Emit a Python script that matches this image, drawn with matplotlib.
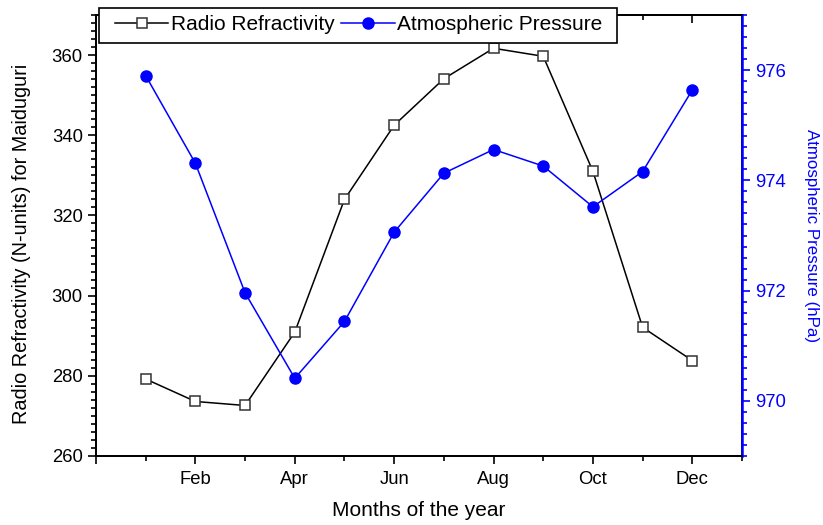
import matplotlib
matplotlib.use("Agg")
import matplotlib.pyplot as plt
from matplotlib.ticker import MultipleLocator, FixedLocator
from matplotlib.lines import Line2D
from matplotlib.patches import Rectangle

plt.rcParams['font.family'] = ['Liberation Sans', 'DejaVu Sans']

months = [1, 2, 3, 4, 5, 6, 7, 8, 9, 10, 11, 12]
refractivity = [279.2, 273.6, 272.6, 290.9, 324.0, 342.5, 354.1, 361.7, 359.7, 331.0, 292.1, 283.8]
pressure = [975.90, 974.31, 971.96, 970.41, 971.44, 973.06, 974.13, 974.56, 974.26, 973.52, 974.16, 975.64]
tick_months = [0, 2, 4, 6, 8, 10, 12]
tick_labels = ['', 'Feb', 'Apr', 'Jun', 'Aug', 'Oct', 'Dec']

W, H = 823, 525
fig = plt.figure(figsize=(W/100, H/100), dpi=100)
ax = fig.add_axes([96/W, 1-456/H, (742-96)/W, (456-15)/H])
ax2 = ax.twinx()

ax.plot(months, refractivity, color='black', lw=1.1, marker='s', ms=7.5,
        mfc='white', mec='#333333', mew=1.1, zorder=3)
ax2.plot(months, pressure, color='blue', lw=1.1, marker='o', ms=8,
         mfc='blue', mec='blue', zorder=3)

ax.set_xlim(0, 13)
ax.set_ylim(260, 370)
ax2.set_ylim(969, 977)

ax.xaxis.set_major_locator(FixedLocator(tick_months))
ax.set_xticklabels(tick_labels)
ax.xaxis.set_minor_locator(FixedLocator([1, 3, 5, 7, 9, 11, 13]))
ax.yaxis.set_major_locator(MultipleLocator(20))
ax.yaxis.set_minor_locator(MultipleLocator(2))
ax2.yaxis.set_major_locator(FixedLocator([970, 972, 974, 976]))
ax2.yaxis.set_minor_locator(MultipleLocator(0.2))

for a in (ax, ax2):
    for s in a.spines.values():
        s.set_linewidth(1.3)
ax2.spines['right'].set_color('blue')
ax2.spines['right'].set_linewidth(1.8)

ax.tick_params(axis='x', which='major', direction='out', length=6, width=1.2,
               labelsize=13.3, top=False, pad=5)
ax.tick_params(axis='x', which='minor', direction='out', length=3.5, width=1.2, top=False)
ax.tick_params(axis='y', which='major', direction='out', length=6, width=1.2,
               labelsize=13.3, right=False)
ax.tick_params(axis='y', which='minor', direction='out', length=3.5, width=1.2, right=False)
ax2.tick_params(axis='y', which='major', direction='out', length=6, width=1.2,
                colors='blue', labelsize=13.3)
ax2.tick_params(axis='y', which='minor', direction='out', length=3.5, width=1.2, colors='blue')

# top inward ticks
sec = ax.secondary_xaxis('top')
sec.xaxis.set_major_locator(FixedLocator(tick_months))
sec.xaxis.set_minor_locator(FixedLocator([1, 3, 5, 7, 9, 11, 13]))
sec.tick_params(which='major', direction='in', length=6, width=1.2, labeltop=False)
sec.tick_params(which='minor', direction='in', length=3.5, width=1.2)
sec.spines['top'].set_linewidth(1.3)

ax.set_xlabel('Months of the year', fontsize=15, labelpad=9)
ax.set_ylabel('Radio Refractivity (N-units) for Maiduguri', fontsize=14.3)
ax.yaxis.set_label_coords(-0.1006, 0.48)
ax2.set_ylabel('Atmospheric Pressure (hPa)', fontsize=12.2, color='blue',
               rotation=270, labelpad=24)

handles = [
    Line2D([], [], color='black', lw=1.1, marker='s', ms=7.5, mfc='white', mec='#333333', mew=1.1),
    Line2D([], [], color='blue', lw=1.1, marker='o', ms=8, mfc='blue', mec='blue'),
]
leg = fig.legend(handles, ['Radio Refractivity', 'Atmospheric Pressure'], ncol=2,
                 loc='upper left', bbox_to_anchor=(115/W, 1-15/H), fontsize=15,
                 frameon=False, handlelength=2.55,
                 handletextpad=0.12, columnspacing=0.34, borderpad=0, borderaxespad=0)
leg.set_zorder(10)

frame = Rectangle((99/W, 1-43/H), (617-99)/W, (43-8)/H, transform=fig.transFigure,
                  facecolor='white', edgecolor='black', lw=1.2, zorder=9)
fig.add_artist(frame)

fig.savefig('out.png', dpi=100)
